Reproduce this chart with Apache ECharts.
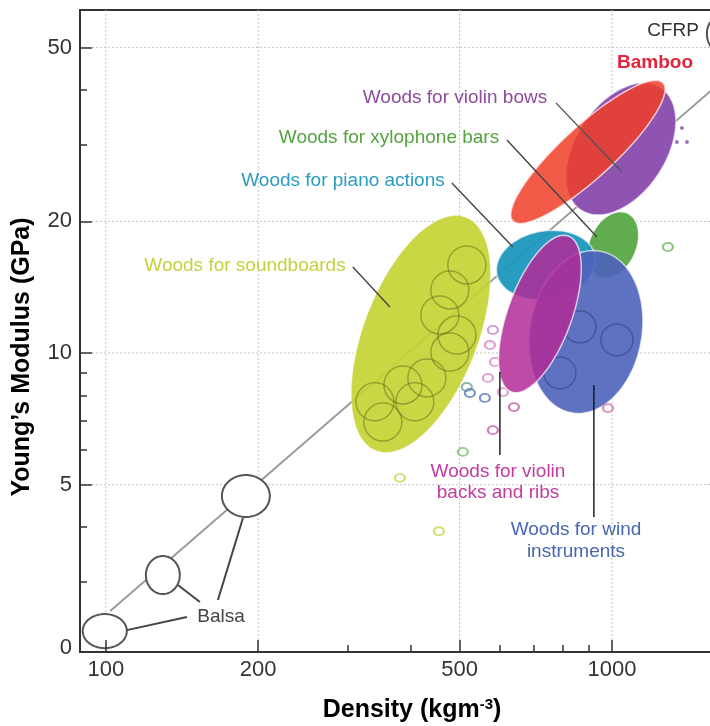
<!DOCTYPE html>
<html><head><meta charset="utf-8">
<script src="https://cdn.jsdelivr.net/npm/echarts@6.0.0/dist/echarts.min.js"></script>
<style>html,body{margin:0;padding:0;background:#fff}#chart{width:710px;height:726px}</style>
</head><body><div id="chart"></div>
<script>
// ---------- axis values ----------
const xRange = [88.9, 1791];
const yRange = [2.07, 60.9];
const xTickValues = [100, 200, 500, 1000];
const xTickLabels = ['100', '200', '500', '1000'];
const xMinorTickValues = [300, 400, 600, 700, 800, 900];
const yTickValues = [5, 10, 20, 50];
const yMinorTickValues = [3, 4, 6, 7, 8, 9, 30, 40];
const yLabelValues = [2.12, 5, 10, 20, 50];
const yLabelTexts = ['0', '5', '10', '20', '50'];

// ---------- material envelopes (density kg/m3, modulus GPa) ----------
const ellipseNames = ['Soundboards', 'Xylophone bars', 'Piano actions', 'Wind instruments',
  'Violin backs and ribs', 'Violin bows', 'Bamboo', 'Balsa A', 'Balsa B', 'Balsa C', 'CFRP'];
const centerDensity = [419.3, 1004.6, 740.7, 888.5, 720.6, 1041.8, 896.6, 99.5, 129.6, 189.1, 1605];
const centerModulus = [11.05, 17.66, 15.90, 11.17, 12.28, 29.30, 28.84, 2.311, 3.105, 4.708, 53.70];
const majorDensity = [514.2, 1077.5, 926.5, 948.2, 820.0, 1248.6, 1262.4, 110.0, 140.0, 210.9, 1672];
const majorModulus = [20.44, 20.79, 16.65, 17.10, 18.52, 40.45, 41.46, 2.311, 3.105, 4.708, 53.70];
const minorDensity = [534.2, 1101.3, 760.7, 1142, 826.4, 1237.5, 971.4, 99.5, 129.6, 189.1, 1605];
const minorModulus = [9.93, 16.65, 13.33, 10.61, 11.60, 25.75, 26.06, 2.528, 3.432, 5.258, 58.11];

// trend line E proportional to density
const trendDensity = [102, 1800];
const trendModulus = [2.57, 45.7];

// individual species circles
const soundCircleDensity = [340.1, 352.7, 408.0, 430.9, 478.4, 494.0, 457.1, 478.4, 516.8, 386.4];
const soundCircleModulus = [7.73, 6.95, 7.73, 8.77, 10.05, 10.99, 12.22, 13.94, 15.90, 8.45];
const windCircleDensity = [1023, 864.6, 789.3];
const windCircleModulus = [10.71, 11.47, 9.00];
const openDensity = [1290, 381.1, 455, 507.5, 516.8, 640.2, 581.8, 982, 574.0, 587.2, 568.8, 608.9, 581.8, 524, 561];
const openModulus = [17.48, 5.18, 3.91, 5.94, 8.36, 7.52, 6.66, 7.48, 10.43, 9.54, 8.77, 8.14, 11.29, 8.10, 7.89];
const bowDotDensity = [1375, 1344, 1407];
const bowDotModulus = [32.72, 30.39, 30.39];

// leader lines
const leaderFromDensity = [307.7, 482.8, 620.2, 775.0, 600.7, 921.2, 110.0, 138.8, 166.5];
const leaderFromModulus = [15.73, 24.49, 30.72, 37.34, 9.047, 8.449, 2.323, 2.945, 2.722];
const leaderToDensity = [364.2, 637.3, 934.1, 1046.6, 600.7, 921.2, 144.6, 153.4, 186.6];
const leaderToModulus = [12.74, 17.48, 18.42, 25.95, 5.843, 4.214, 2.488, 2.693, 4.193];

// ---------- styles ----------
const lg = Math.log10;
const FONT = '"Liberation Sans", Arial, Helvetica, sans-serif';
const ellipseStyles = [
  {fill: 'rgba(197,212,52,0.92)', stroke: 'rgba(255,255,255,0.3)', lw: 1},
  {fill: 'rgba(88,168,70,0.95)', stroke: 'rgba(255,255,255,0.4)', lw: 1},
  {fill: 'rgba(28,152,190,0.95)', stroke: 'rgba(255,255,255,0.6)', lw: 1.5},
  {fill: 'rgba(78,98,186,0.9)', stroke: 'rgba(255,255,255,0.65)', lw: 1.5},
  {fill: 'rgba(178,44,152,0.85)', stroke: 'rgba(255,255,255,0.7)', lw: 1.5},
  {fill: 'rgba(139,78,176,0.97)', stroke: 'rgba(255,255,255,0.5)', lw: 1.5},
  {fill: 'rgba(238,62,40,0.85)', stroke: 'rgba(255,235,235,0.8)', lw: 1.5},
  {fill: '#ffffff', stroke: '#555', lw: 2},
  {fill: '#ffffff', stroke: '#555', lw: 2},
  {fill: '#ffffff', stroke: '#555', lw: 2},
  {fill: '#ffffff', stroke: '#555', lw: 2}
];
const leaderColors = ['#444', '#444', '#444', '#555', '#111', '#111', '#444', '#444', '#444'];
const openColors = ['#6cb85a', '#c8d650', '#c8d650', '#7cc070', '#6aa890', '#c45aa8', '#c45aa8', '#d0709a',
  'rgba(200,80,170,0.7)', 'rgba(200,80,170,0.7)', 'rgba(200,80,170,0.7)', 'rgba(200,80,170,0.7)', 'rgba(170,80,170,0.7)',
  '#5a7ab8', '#5a7ab8'];

function ellipseSeries(indices, z) {
  return {
    type: 'custom', coordinateSystem: 'cartesian2d', z: z, silent: true, clip: false,
    data: indices.map(i => [lg(centerDensity[i]), lg(centerModulus[i]), i]),
    encode: {x: 0, y: 1},
    renderItem: (params, api) => {
      const i = indices[params.dataIndex];
      const c = api.coord([lg(centerDensity[i]), lg(centerModulus[i])]);
      const m = api.coord([lg(majorDensity[i]), lg(majorModulus[i])]);
      const n = api.coord([lg(minorDensity[i]), lg(minorModulus[i])]);
      const ux = m[0] - c[0], uy = m[1] - c[1], vx = n[0] - c[0], vy = n[1] - c[1];
      const pts = [];
      for (let k = 0; k < 96; k++) {
        const t = k / 96 * 2 * Math.PI;
        pts.push([c[0] + Math.cos(t) * ux + Math.sin(t) * vx, c[1] + Math.cos(t) * uy + Math.sin(t) * vy]);
      }
      const s = ellipseStyles[i];
      return {type: 'polygon', z2: params.dataIndex, shape: {points: pts},
        style: {fill: s.fill, stroke: s.stroke, lineWidth: s.lw}};
    }
  };
}

const gridItems = xTickValues.map(v => ['x', v]).concat(yTickValues.map(v => ['y', v]));

const option = {
  animation: false,
  backgroundColor: '#fff',
  grid: {left: 80, top: 10, width: 660, height: 642, show: true, borderColor: '#333', borderWidth: 2,
    containLabel: false, outerBoundsMode: 'none'},
  xAxis: [
    {type: 'value', min: lg(xRange[0]), max: lg(xRange[1]), position: 'bottom', z: 10,
      axisLine: {show: true, lineStyle: {color: '#333', width: 2}},
      axisTick: {show: true, inside: true, length: 12, lineStyle: {color: '#333', width: 1.5},
        customValues: xTickValues.map(lg)},
      axisLabel: {show: true, customValues: xTickValues.map(lg), margin: 7, color: '#333',
        fontSize: 22, fontFamily: FONT, hideOverlap: false,
        formatter: v => { const i = xTickValues.findIndex(t => Math.abs(lg(t) - v) < 1e-6); return i >= 0 ? xTickLabels[i] : ''; }},
      splitLine: {show: false}},
    {type: 'value', min: lg(xRange[0]), max: lg(xRange[1]), position: 'bottom', offset: 0, z: 10,
      axisLine: {show: false},
      axisTick: {show: true, inside: true, length: 7, lineStyle: {color: '#333', width: 1.5},
        customValues: xMinorTickValues.map(lg)},
      axisLabel: {show: false}, splitLine: {show: false}}
  ],
  yAxis: [
    {type: 'value', min: lg(yRange[0]), max: lg(yRange[1]), position: 'left', z: 10,
      axisLine: {show: true, lineStyle: {color: '#333', width: 2}},
      axisTick: {show: true, inside: true, length: 12, lineStyle: {color: '#333', width: 1.5},
        customValues: yTickValues.map(lg)},
      axisLabel: {show: true, customValues: yLabelValues.map(lg), margin: 8, color: '#333',
        fontSize: 22, fontFamily: FONT, hideOverlap: false,
        formatter: v => { const i = yLabelValues.findIndex(t => Math.abs(lg(t) - v) < 1e-6); return i >= 0 ? yLabelTexts[i] : ''; }},
      splitLine: {show: false}},
    {type: 'value', min: lg(yRange[0]), max: lg(yRange[1]), position: 'left', offset: 0, z: 10,
      axisLine: {show: false},
      axisTick: {show: true, inside: true, length: 7, lineStyle: {color: '#333', width: 1.5},
        customValues: yMinorTickValues.map(lg)},
      axisLabel: {show: false}, splitLine: {show: false}}
  ],
  series: [
    // dotted grid lines
    {type: 'custom', coordinateSystem: 'cartesian2d', z: 1, silent: true,
      data: gridItems.map((g, i) => [g[0] === 'x' ? lg(g[1]) : lg(xRange[0]), g[0] === 'y' ? lg(g[1]) : lg(yRange[0])]),
      renderItem: (params, api) => {
        const g = gridItems[params.dataIndex];
        let p1, p2;
        if (g[0] === 'x') { p1 = api.coord([lg(g[1]), lg(yRange[0])]); p2 = api.coord([lg(g[1]), lg(yRange[1])]); }
        else { p1 = api.coord([lg(xRange[0]), lg(g[1])]); p2 = api.coord([lg(xRange[1]), lg(g[1])]); }
        return {type: 'line', shape: {x1: p1[0], y1: p1[1], x2: p2[0], y2: p2[1]},
          style: {stroke: '#c4c4c4', lineWidth: 1, lineDash: [2, 2]}};
      }},
    // trend line
    {type: 'line', z: 2, silent: true, symbol: 'none',
      data: trendDensity.map((d, i) => [lg(d), lg(trendModulus[i])]),
      lineStyle: {color: '#9a9a9a', width: 2}},
    ellipseSeries([0, 1, 2, 3], 3),
    // species circles inside soundboards / wind
    {type: 'scatter', z: 4, silent: true, symbol: 'circle', symbolSize: 38,
      data: soundCircleDensity.map((d, i) => [lg(d), lg(soundCircleModulus[i])]),
      itemStyle: {color: 'rgba(0,0,0,0)', borderColor: 'rgba(85,95,20,0.55)', borderWidth: 1.5}},
    {type: 'scatter', z: 4, silent: true, symbol: 'circle', symbolSize: 32,
      data: windCircleDensity.map((d, i) => [lg(d), lg(windCircleModulus[i])]),
      itemStyle: {color: 'rgba(0,0,0,0)', borderColor: 'rgba(40,50,120,0.55)', borderWidth: 1.5}},
    // small open circles (under the violin-back envelope)
    {type: 'scatter', z: 4, silent: true, symbol: 'circle', symbolSize: [10, 8],
      data: openDensity.map((d, i) => ({value: [lg(d), lg(openModulus[i])],
        itemStyle: {color: 'rgba(0,0,0,0)', borderColor: openColors[i], borderWidth: 2}}))},
    ellipseSeries([4, 5, 6, 7, 8, 9, 10], 5),
    {type: 'scatter', z: 6, silent: true, symbol: 'circle', symbolSize: 4,
      data: bowDotDensity.map((d, i) => [lg(d), lg(bowDotModulus[i])]),
      itemStyle: {color: '#8b4eb0'}},
    // leader lines
    {type: 'custom', coordinateSystem: 'cartesian2d', z: 8, silent: true, clip: false,
      data: leaderFromDensity.map((d, i) => [lg(d), lg(leaderFromModulus[i])]),
      renderItem: (params, api) => {
        const i = params.dataIndex;
        const p1 = api.coord([lg(leaderFromDensity[i]), lg(leaderFromModulus[i])]);
        const p2 = api.coord([lg(leaderToDensity[i]), lg(leaderToModulus[i])]);
        return {type: 'line', shape: {x1: p1[0], y1: p1[1], x2: p2[0], y2: p2[1]},
          style: {stroke: leaderColors[i], lineWidth: i >= 6 ? 2 : 1.4}};
      }}
  ],
  graphic: [
    {type: 'text', x: 673, y: 31, z: 20, style: {text: 'CFRP', font: '19px ' + FONT, fill: '#333', align: 'center', verticalAlign: 'middle'}},
    {type: 'text', x: 655, y: 63, z: 20, style: {text: 'Bamboo', font: 'bold 19px ' + FONT, fill: '#e3253c', align: 'center', verticalAlign: 'middle'}},
    {type: 'text', x: 455, y: 98, z: 20, style: {text: 'Woods for violin bows', font: '19px ' + FONT, fill: '#8e4a9e', align: 'center', verticalAlign: 'middle'}},
    {type: 'text', x: 389, y: 138, z: 20, style: {text: 'Woods for xylophone bars', font: '19px ' + FONT, fill: '#52a43e', align: 'center', verticalAlign: 'middle'}},
    {type: 'text', x: 343, y: 181, z: 20, style: {text: 'Woods for piano actions', font: '19px ' + FONT, fill: '#2a9cc0', align: 'center', verticalAlign: 'middle'}},
    {type: 'text', x: 245, y: 266, z: 20, style: {text: 'Woods for soundboards', font: '19px ' + FONT, fill: '#c3d23c', align: 'center', verticalAlign: 'middle'}},
    {type: 'text', x: 498, y: 472, z: 20, style: {text: 'Woods for violin', font: '19px ' + FONT, fill: '#c23c9e', align: 'center', verticalAlign: 'middle'}},
    {type: 'text', x: 498, y: 493, z: 20, style: {text: 'backs and ribs', font: '19px ' + FONT, fill: '#c23c9e', align: 'center', verticalAlign: 'middle'}},
    {type: 'text', x: 576, y: 530, z: 20, style: {text: 'Woods for wind', font: '19px ' + FONT, fill: '#4866b0', align: 'center', verticalAlign: 'middle'}},
    {type: 'text', x: 576, y: 552, z: 20, style: {text: 'instruments', font: '19px ' + FONT, fill: '#4866b0', align: 'center', verticalAlign: 'middle'}},
    {type: 'text', x: 221, y: 617, z: 20, style: {text: 'Balsa', font: '19px ' + FONT, fill: '#444', align: 'center', verticalAlign: 'middle',
      backgroundColor: '#fff'}},
    {type: 'text', x: 22, y: 357, rotation: Math.PI / 2, z: 20, style: {text: 'Young\u2019s Modulus (GPa)', font: 'bold 25px ' + FONT, fill: '#000', align: 'center', verticalAlign: 'middle'}},
    {type: 'text', x: 412, y: 710, z: 20, style: {text: 'Density (kgm{sup|-3})', font: 'bold 25px ' + FONT, fill: '#000', align: 'center', verticalAlign: 'middle',
      rich: {sup: {font: 'bold 15px ' + FONT, fill: '#000', verticalAlign: 'top', padding: [0, 0, 0, 0]}}}}
  ]
};
const chart = echarts.init(document.getElementById('chart'), null, {renderer: 'canvas'});
chart.setOption(option);
</script></body></html>
